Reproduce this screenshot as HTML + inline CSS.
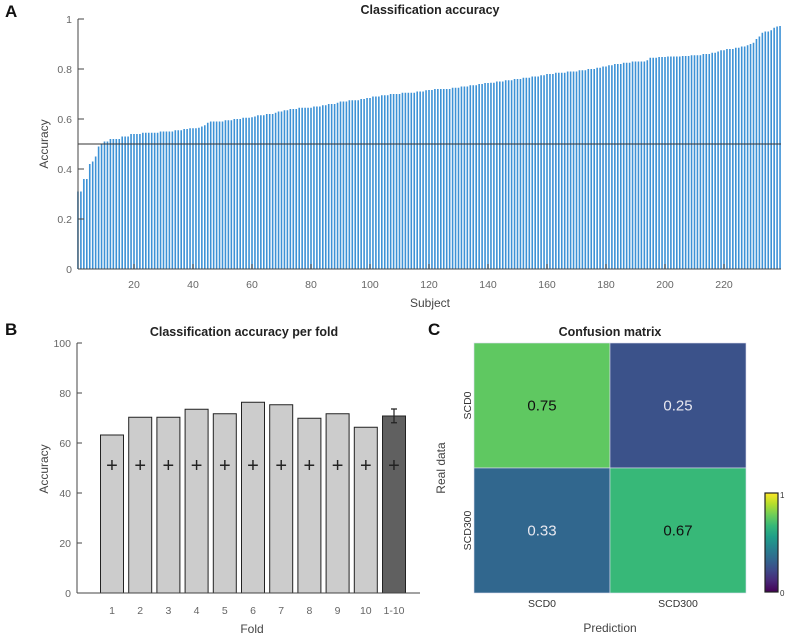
<!DOCTYPE html>
<html><head><meta charset="utf-8"><style>
body{margin:0;background:#fff;}
svg{display:block;font-family:"Liberation Sans",sans-serif;}
</style></head><body>
<svg id="fig" width="788" height="636" viewBox="0 0 788 636">
<g id="pA"></g>
<g id="pB"></g>
<g id="pC"></g>
</svg>
<script>
const subjectAcc=[
0.31,0.31,0.36,0.36,0.42,0.43,0.45,0.49,0.50,0.51,
0.51,0.52,0.52,0.52,0.52,0.53,0.53,0.53,0.54,0.54,
0.54,0.54,0.545,0.545,0.545,0.545,0.545,0.545,0.55,0.55,
0.55,0.55,0.55,0.555,0.555,0.555,0.56,0.56,0.563,0.563,
0.563,0.565,0.57,0.575,0.585,0.59,0.59,0.59,0.59,0.59,
0.595,0.595,0.595,0.60,0.60,0.60,0.605,0.605,0.605,0.607,
0.61,0.615,0.615,0.615,0.62,0.62,0.62,0.625,0.63,0.63,
0.635,0.635,0.64,0.64,0.64,0.645,0.645,0.645,0.645,0.645,
0.65,0.65,0.65,0.655,0.655,0.66,0.66,0.66,0.665,0.67,
0.67,0.67,0.675,0.675,0.675,0.675,0.68,0.68,0.684,0.684,
0.69,0.69,0.69,0.695,0.695,0.695,0.70,0.70,0.70,0.70,
0.705,0.705,0.705,0.705,0.705,0.71,0.71,0.71,0.715,0.716,
0.716,0.72,0.72,0.72,0.72,0.72,0.72,0.725,0.725,0.725,
0.73,0.73,0.73,0.735,0.735,0.735,0.74,0.74,0.744,0.744,
0.745,0.745,0.75,0.75,0.75,0.755,0.755,0.755,0.76,0.76,
0.76,0.765,0.765,0.765,0.77,0.77,0.77,0.775,0.775,0.78,
0.78,0.78,0.785,0.785,0.785,0.785,0.79,0.79,0.79,0.79,
0.795,0.795,0.795,0.80,0.80,0.80,0.805,0.805,0.81,0.81,
0.815,0.815,0.82,0.82,0.82,0.825,0.825,0.825,0.83,0.83,
0.83,0.83,0.83,0.835,0.845,0.845,0.845,0.848,0.848,0.848,
0.85,0.85,0.85,0.85,0.85,0.852,0.852,0.852,0.855,0.855,
0.855,0.855,0.86,0.86,0.86,0.865,0.865,0.87,0.875,0.875,
0.88,0.88,0.88,0.885,0.885,0.89,0.89,0.895,0.90,0.905,
0.92,0.93,0.945,0.95,0.95,0.955,0.965,0.97,0.972];
const aYTicks=[0,0.2,0.4,0.6,0.8,1];
const aYTickLabels=["0","0.2","0.4","0.6","0.8","1"];
const aXTicks=[20,40,60,80,100,120,140,160,180,200,220];
const chanceLevel=0.5;

const foldLabels=["1","2","3","4","5","6","7","8","9","10","1-10"];
const foldAcc=[63.2,70.3,70.3,73.5,71.7,76.3,75.3,69.9,71.7,66.3,70.8];
const foldChance=[51.2,51.2,51.2,51.2,51.2,51.2,51.2,51.2,51.2,51.2,51.2];
const meanErrLow=68.1, meanErrHigh=73.6;
const bYTicks=[0,20,40,60,80,100];

const cmRows=["SCD0","SCD300"];
const cmCols=["SCD0","SCD300"];
const cmValues=[[0.75,0.25],[0.33,0.67]];

const NS="http://www.w3.org/2000/svg";
function mk(parent,tag,attrs,text){const e=document.createElementNS(NS,tag);for(const k in attrs)e.setAttribute(k,attrs[k]);if(text!==undefined)e.textContent=text;parent.appendChild(e);return e;}

// ---------- Panel A ----------
const A=document.getElementById('pA');
const axL=78, axR=781, aY0=269, aY1=19;
const ax=s=>75+(s)*2.95;
const ay=v=>aY0-(v)*(aY0-aY1);
let t;
t=mk(A,'text',{x:5,y:17,'font-size':17,'font-weight':'bold',fill:'#111'},'A');


t=mk(A,'text',{x:430,y:14,'font-size':12.5,'font-weight':'bold','text-anchor':'middle',fill:'#222'},'Classification accuracy');


subjectAcc.forEach((v,i)=>{
  const r=mk(A,'rect',{x:ax(i+1)-0.8,y:ay(v),width:1.6,height:aY0-ay(v),fill:'#3d92d6'});
  
  
});
let l=mk(A,'line',{x1:axL,x2:axR,y1:ay(chanceLevel),y2:ay(chanceLevel),stroke:'#333','stroke-width':1});


l=mk(A,'line',{x1:axL,x2:axL,y1:aY1,y2:aY0,stroke:'#444','stroke-width':1});


l=mk(A,'line',{x1:axL,x2:axR,y1:aY0,y2:aY0,stroke:'#444','stroke-width':1});


aYTicks.forEach((v,i)=>{
  mk(A,'line',{x1:axL,x2:axL+6,y1:ay(v),y2:ay(v),stroke:'#444'});
  const tt=mk(A,'text',{x:72,y:ay(v)+4,'font-size':10.5,'text-anchor':'end',fill:'#666'},aYTickLabels[i]);
  
  
});
aXTicks.forEach(v=>{
  mk(A,'line',{x1:ax(v),x2:ax(v),y1:aY0,y2:aY0-5,stroke:'#444'});
  const tt=mk(A,'text',{x:ax(v),y:288,'font-size':10.5,'text-anchor':'middle',fill:'#666'},String(v));
  
  
});
t=mk(A,'text',{x:430,y:307,'font-size':12,'text-anchor':'middle',fill:'#444'},'Subject');


t=mk(A,'text',{x:0,y:0,'font-size':12,'text-anchor':'middle',fill:'#444',transform:'translate(48,144) rotate(-90)'},'Accuracy');



// ---------- Panel B ----------
const B=document.getElementById('pB');
const bL=77,bR=420,bY0=593,bY1=343;
const bx=i=>112+i*28.2;
const by=v=>bY0-v*(bY0-bY1)/100;
t=mk(B,'text',{x:5,y:335,'font-size':17,'font-weight':'bold',fill:'#111'},'B');


t=mk(B,'text',{x:244,y:336,'font-size':12.5,'font-weight':'bold','text-anchor':'middle',fill:'#222'},'Classification accuracy per fold');


foldAcc.forEach((v,i)=>{
  const last=i===foldAcc.length-1;
  const r=mk(B,'rect',{x:bx(i)-11.5,y:by(v),width:23,height:bY0-by(v),fill:last?'#606060':'#cccccc',stroke:'#222','stroke-width':1});
  
  
  const p=mk(B,'text',{x:bx(i),y:by(foldChance[i])+7,'font-size':20,'text-anchor':'middle',fill:'#222'},'+');
  
  
  const tl=mk(B,'text',{x:bx(i),y:614,'font-size':10.5,'text-anchor':'middle',fill:'#666'},foldLabels[i]);
  
  
});
const mi=foldAcc.length-1;
const eb=mk(B,'path',{d:`M${bx(mi)} ${by(meanErrLow)}V${by(meanErrHigh)}M${bx(mi)-3} ${by(meanErrLow)}h6M${bx(mi)-3} ${by(meanErrHigh)}h6`,stroke:'#222','stroke-width':1.2,fill:'none'});


l=mk(B,'line',{x1:bL,x2:bL,y1:bY1,y2:bY0,stroke:'#444'});


l=mk(B,'line',{x1:bL,x2:bR,y1:bY0,y2:bY0,stroke:'#444'});


bYTicks.forEach(v=>{
  mk(B,'line',{x1:bL,x2:bL+5,y1:by(v),y2:by(v),stroke:'#444'});
  const tt=mk(B,'text',{x:71,y:by(v)+4,'font-size':10.5,'text-anchor':'end',fill:'#666'},String(v));
  
  
});
t=mk(B,'text',{x:252,y:633,'font-size':12,'text-anchor':'middle',fill:'#444'},'Fold');


t=mk(B,'text',{x:0,y:0,'font-size':12,'text-anchor':'middle',fill:'#444',transform:'translate(48,469) rotate(-90)'},'Accuracy');



// ---------- Panel C ----------
const C=document.getElementById('pC');
const vir=[[68,1,84],[72,40,120],[62,74,137],[49,104,142],[38,130,142],[31,158,137],[53,183,121],[109,205,89],[180,222,44],[253,231,37]];
function viridis(v){const p=v*(vir.length-1);const i=Math.min(Math.floor(p),vir.length-2);const f=p-i;const a=vir[i],b=vir[i+1];return `rgb(${a.map((c,k)=>Math.round(c+(b[k]-c)*f)).join(',')})`;}
const cL=474,cR=746,cT=343,cB=593;
const cw=(cR-cL)/cmCols.length, ch=(cB-cT)/cmRows.length;
t=mk(C,'text',{x:428,y:335,'font-size':17,'font-weight':'bold',fill:'#111'},'C');


t=mk(C,'text',{x:610,y:336,'font-size':12.5,'font-weight':'bold','text-anchor':'middle',fill:'#222'},'Confusion matrix');


cmValues.forEach((row,r)=>row.forEach((v,c)=>{
  const cell=mk(C,'rect',{x:cL+c*cw,y:cT+r*ch,width:cw,height:ch,fill:viridis(v),stroke:'#dde','stroke-width':0.6});
  
  
  const tv=mk(C,'text',{x:cL+c*cw+cw/2,y:cT+r*ch+ch/2+5,'font-size':15,'text-anchor':'middle',fill:v>0.5?'#111':'#e8e8f0'},v.toFixed(2));
  
  
}));
cmCols.forEach((c,i)=>{
  const tt=mk(C,'text',{x:cL+i*cw+cw/2,y:607,'font-size':10.5,'text-anchor':'middle',fill:'#333'},c);
  
  
});
cmRows.forEach((c,i)=>{
  const yy=cT+i*ch+ch/2;
  const tt=mk(C,'text',{x:0,y:0,'font-size':10.5,'text-anchor':'middle',fill:'#333',transform:`translate(471,${yy}) rotate(-90)`},c);
  
  
});
t=mk(C,'text',{x:610,y:632,'font-size':12,'text-anchor':'middle',fill:'#444'},'Prediction');


t=mk(C,'text',{x:0,y:0,'font-size':12,'text-anchor':'middle',fill:'#444',transform:'translate(445,468) rotate(-90)'},'Real data');


const defs=mk(C,'defs',{});
const g=mk(defs,'linearGradient',{id:'vg',x1:0,y1:1,x2:0,y2:0});
vir.forEach((c,i)=>mk(g,'stop',{offset:i/(vir.length-1),'stop-color':`rgb(${c.join(',')})`}));
const cb=mk(C,'rect',{x:765,y:493,width:13,height:99,fill:'url(#vg)',stroke:'#222','stroke-width':1.2});


t=mk(C,'text',{x:780,y:498,'font-size':8,fill:'#333'},'1');


t=mk(C,'text',{x:780,y:596,'font-size':8,fill:'#333'},'0');


</script>
</body></html>
